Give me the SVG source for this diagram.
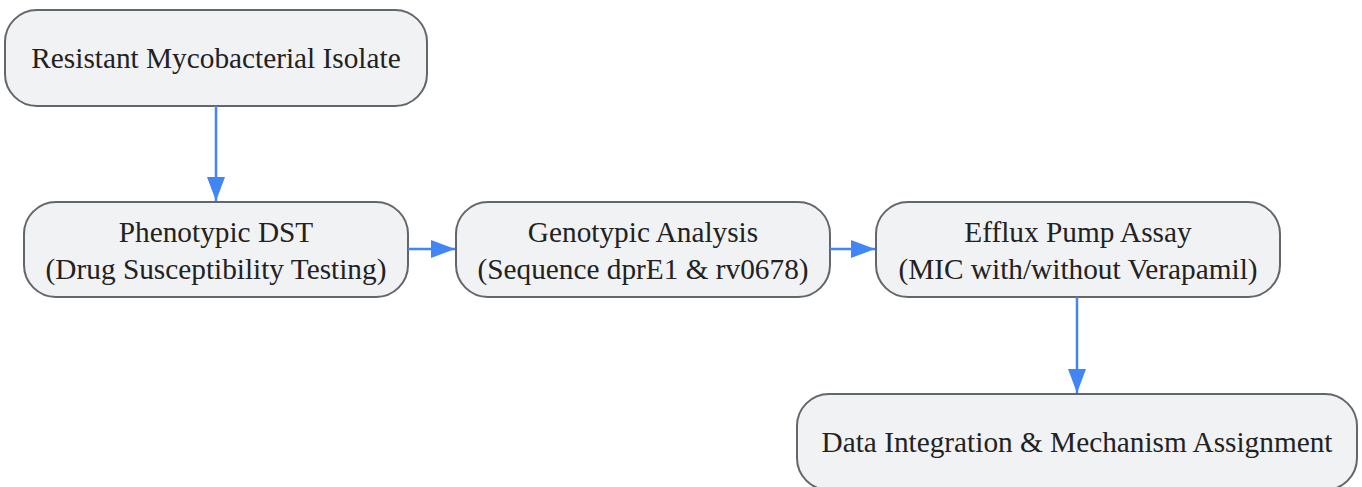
<svg xmlns="http://www.w3.org/2000/svg" width="1362" height="487" viewBox="0 0 1362 487">
<style>
.node rect{fill:#f1f2f4;stroke:#63666b;stroke-width:2}
.node text{font-family:"Liberation Serif","Times New Roman",serif;font-size:29.3px;fill:#222;text-anchor:middle}
.edge{stroke:#4285f4;stroke-width:2.5;fill:none}
</style>
<defs>
<marker id="ah" viewBox="0 0 24 18" refX="24" refY="9" markerWidth="24" markerHeight="18" markerUnits="userSpaceOnUse" orient="auto">
<path d="M0,0 L24,9 L0,18 Z" fill="#4285f4"/>
</marker>
</defs>
<g id="n1" class="node"><rect x="5" y="10" width="422" height="96" rx="32"/><text x="216" y="68">Resistant Mycobacterial Isolate</text></g>
<g id="n2" class="node"><rect x="24" y="202" width="384" height="95" rx="32"/><text x="216" y="242">Phenotypic DST</text><text x="216" y="279">(Drug Susceptibility Testing)</text></g>
<g id="n3" class="node"><rect x="456" y="202" width="374" height="95" rx="32"/><text x="643" y="242">Genotypic Analysis</text><text x="643" y="279">(Sequence dprE1 &amp; rv0678)</text></g>
<g id="n4" class="node"><rect x="876" y="202" width="404" height="95" rx="32"/><text x="1078" y="242">Efflux Pump Assay</text><text x="1078" y="279">(MIC with/without Verapamil)</text></g>
<g id="n5" class="node"><rect x="797" y="394" width="560" height="96" rx="32"/><text x="1077" y="452">Data Integration &amp; Mechanism Assignment</text></g>
<g id="edges">
<path class="edge" d="M216,106 L216,201" marker-end="url(#ah)"/>
<path class="edge" d="M408,249 L455,249" marker-end="url(#ah)"/>
<path class="edge" d="M830,249 L875,249" marker-end="url(#ah)"/>
<path class="edge" d="M1077,297 L1077,393" marker-end="url(#ah)"/>
</g>
</svg>
